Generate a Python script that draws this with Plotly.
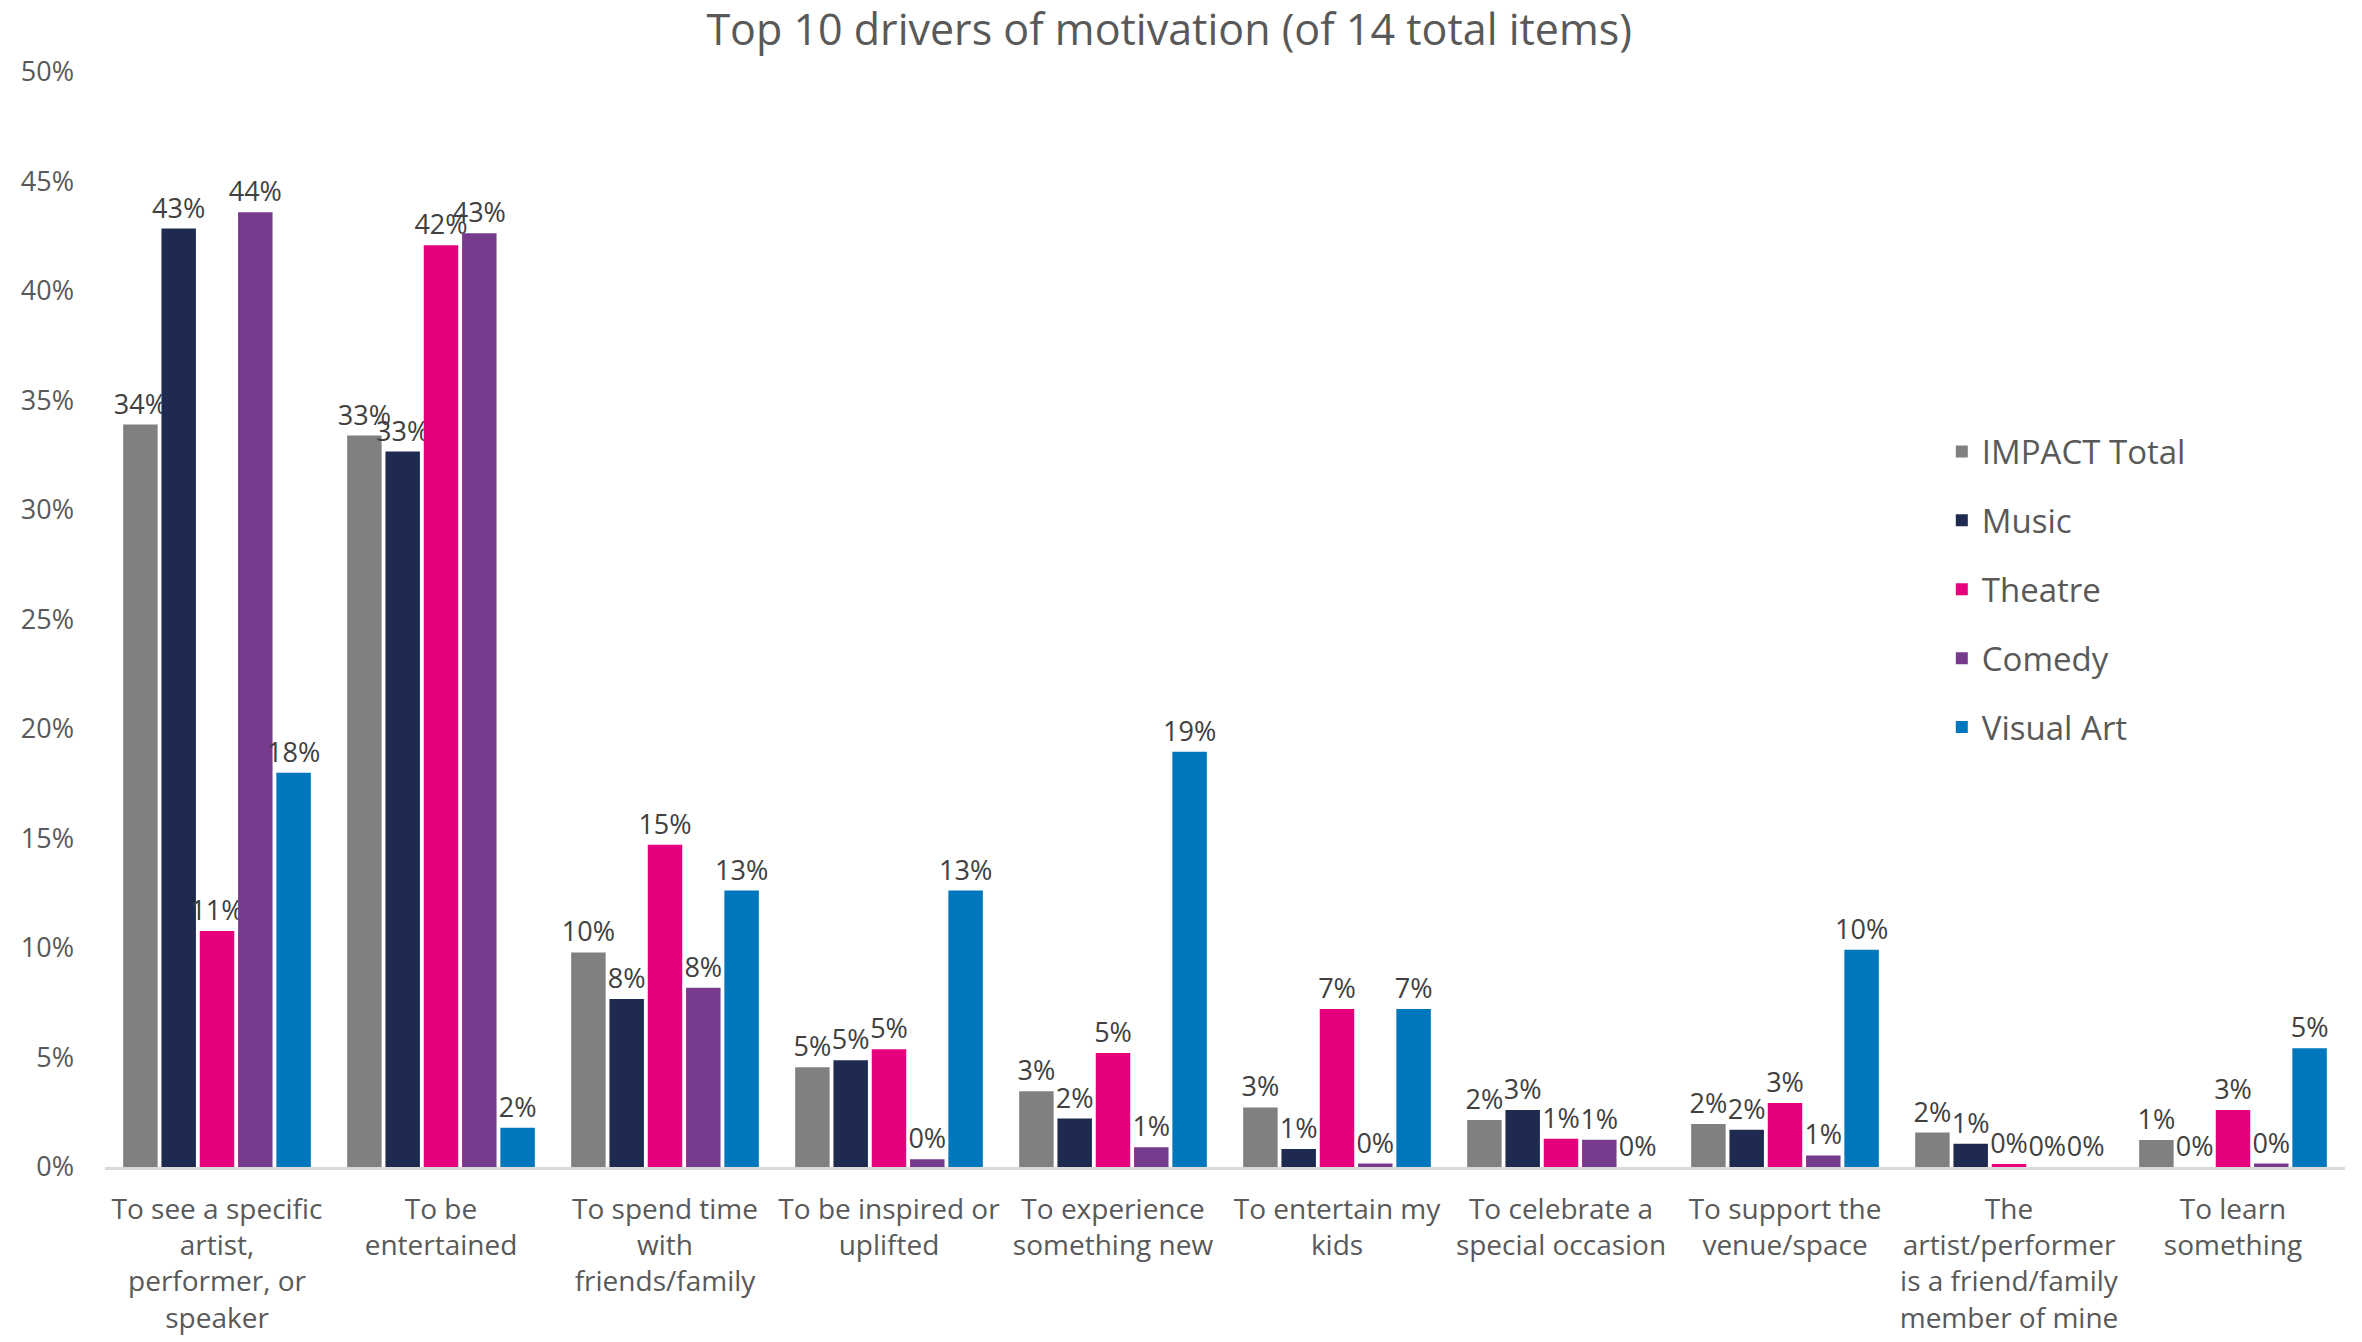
import plotly.graph_objects as go

# Motivation drivers (categories along the x axis)
categories = [
    "To see a specific<br>artist,<br>performer, or<br>speaker",
    "To be<br>entertained",
    "To spend time<br>with<br>friends/family",
    "To be inspired or<br>uplifted",
    "To experience<br>something new",
    "To entertain my<br>kids",
    "To celebrate a<br>special occasion",
    "To support the<br>venue/space",
    "The<br>artist/performer<br>is a friend/family<br>member of mine",
    "To learn<br>something",
]

# Share of respondents (%) per audience segment
impact_total = [33.9, 33.4, 9.8, 4.55, 3.46, 2.72, 2.15, 1.96, 1.57, 1.23]
music = [42.85, 32.67, 7.67, 4.87, 2.21, 0.82, 2.6, 1.7, 1.06, 0.0]
theatre = [10.78, 42.09, 14.72, 5.38, 5.21, 7.22, 1.29, 2.92, 0.14, 2.6]
comedy = [43.6, 42.64, 8.18, 0.35, 0.9, 0.16, 1.25, 0.53, 0.0, 0.16]
visual_art = [18.0, 1.79, 12.62, 12.62, 18.96, 7.22, 0.0, 9.92, 0.0, 5.42]

series_names = ["IMPACT Total", "Music", "Theatre", "Comedy", "Visual Art"]
series_values = [impact_total, music, theatre, comedy, visual_art]
series_colors = ["#808080", "#1F2A50", "#E6007E", "#773B8E", "#0077BC"]

y_ticks = [0, 5, 10, 15, 20, 25, 30, 35, 40, 45, 50]
y_tick_labels = [f"{v}%" for v in y_ticks]

FONT = "Open Sans"
TEXT = "#595959"

fig = go.Figure()
for name, vals, color in zip(series_names, series_values, series_colors):
    fig.add_trace(go.Bar(
        name=name,
        x=categories,
        y=vals,
        marker=dict(color=color, line=dict(width=0)),
        text=[f"{round(v):.0f}%" for v in vals],
        textposition="outside",
        constraintext="none",
        cliponaxis=False,
        textfont=dict(family=FONT, size=27, color="#404040"),
        legendgroup=name,
    ))

fig.update_layout(
    width=2362,
    height=1342,
    paper_bgcolor="white",
    plot_bgcolor="white",
    font=dict(family=FONT, color=TEXT),
    barmode="group",
    bargap=0.145,
    bargroupgap=0.1,
    margin=dict(l=105, r=17, t=72, b=175, autoexpand=False),
    title=dict(
        text="Top 10 drivers of motivation (of 14 total items)",
        font=dict(family=FONT, size=43, color=TEXT),
        x=0.495, xanchor="center",
        y=1 - 30 / 1342, yanchor="middle", yref="container",
    ),
    legend=dict(
        x=0.82, xanchor="left",
        y=0.679, yanchor="top",
        font=dict(family=FONT, size=33, color=TEXT),
        tracegroupgap=23,
        bgcolor="rgba(0,0,0,0)",
    ),
    showlegend=True,
)

fig.update_xaxes(
    automargin=False,
    showline=True, linecolor="#D9D9D9", linewidth=3,
    showgrid=False, ticks="",
    tickfont=dict(family=FONT, size=28, color=TEXT),
    ticklabelstandoff=15,
)
fig.update_yaxes(
    automargin=False,
    range=[0, 50],
    tickmode="array",
    tickvals=y_ticks,
    ticktext=y_tick_labels,
    showgrid=False, zeroline=False, showline=False,
    tickfont=dict(family=FONT, size=27, color=TEXT),
    ticklabelstandoff=30,
)

fig.write_html("out.html")
